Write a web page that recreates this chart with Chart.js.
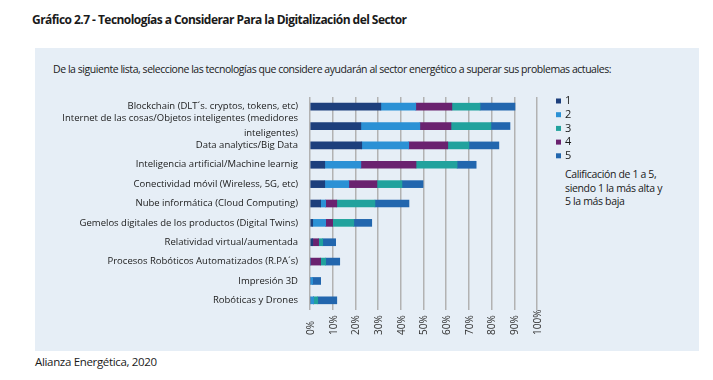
<!DOCTYPE html>
<html lang="es">
<head>
<meta charset="utf-8">
<title>Gráfico 2.7 - Tecnologías a Considerar</title>
<script src="https://cdn.jsdelivr.net/npm/chart.js@4"></script>
<style>
  body {
    margin: 0;
    width: 713px;
    height: 380px;
    background: #ffffff;
    font-family: 'Open Sans', sans-serif;
    color: #1a1a1a;
    position: relative;
    overflow: hidden;
  }
  #title { position: absolute; left: 32px; top: 12px; font-size: 12px; font-weight: 700; line-height: 16px; letter-spacing: -0.55px; }
  #panel { position: absolute; left: 35px; top: 48px; width: 664px; height: 303px; background: #e6eef6; }
  #question { position: absolute; left: 53px; top: 62px; font-size: 10.5px; line-height: 15px; letter-spacing: -0.45px; white-space: nowrap; }
  #note { position: absolute; left: 565px; top: 168px; font-size: 10.5px; line-height: 13.5px; letter-spacing: -0.35px; }
  #source { position: absolute; left: 35px; top: 354px; font-size: 11.5px; line-height: 16px; letter-spacing: -0.33px; }
  #chart-wrap { position: absolute; left: 0; top: 0; width: 713px; height: 380px; }
</style>
</head>
<body>
<div id="title">Gráfico 2.7 - Tecnologías a Considerar Para la Digitalización del Sector</div>
<div id="panel"></div>
<div id="question">De la siguiente lista, seleccione las tecnologías que considere ayudarán al sector energético a superar sus problemas actuales:</div>
<div id="note">Calificación de 1 a 5,<br>siendo 1 la más alta y<br>5 la más baja</div>
<div id="source">Alianza Energética, 2020</div>
<div id="chart-wrap"><canvas id="chart"></canvas></div>

<script>
// Categories (top to bottom)
const categories = [
    'Blockchain (DLT´s. cryptos, tokens, etc)',
    ['Internet de las cosas/Objetos inteligentes (medidores', 'inteligentes)'],
    'Data analytics/Big Data',
    'Inteligencia artificial/Machine learnig',
    'Conectividad móvil (Wireless, 5G, etc)',
    'Nube informática (Cloud Computing)',
    'Gemelos digitales de los productos (Digital Twins)',
    'Relatividad virtual/aumentada',
    'Procesos Robóticos Automatizados (R.PA´s)',
    'Impresión 3D',
    'Robóticas y Drones'
];

// Share of answers per rating (%)
const rating1 = [31.2, 22.4, 22.8, 6.5, 6.5, 4.7, 1.2, 1.2, 0, 0, 0];
const rating2 = [15.4, 26.0, 20.7, 15.9, 10.6, 2.2, 5.7, 0, 0, 1.2, 1.6];
const rating3 = [12.4, 17.6, 9.3, 18.1, 11.0, 16.8, 9.3, 1.8, 2.2, 0, 1.8];
const rating4 = [15.9, 13.7, 17.2, 24.3, 12.4, 4.9, 3.1, 2.6, 4.7, 0, 0];
const rating5 = [15.4, 8.4, 13.2, 8.4, 9.3, 15.0, 7.9, 5.7, 6.2, 3.5, 8.4];

// Axis tick labels
const xTickValues = [0, 10, 20, 30, 40, 50, 60, 70, 80, 90, 100];
const xTickLabels = ['0%', '10%', '20%', '30%', '40%', '50%', '60%', '70%', '80%', '90%', '100%'];

// Colours
const COLORS = {
    r1: '#1d3f7c',
    r2: '#2b91d5',
    r3: '#21a29d',
    r4: '#6a226f',
    r5: '#2266ae'
};
const FONT = "'Open Sans', sans-serif";

// Rotated percent labels under the grid, read bottom to top
const xLabelsPlugin = {
    id: 'xLabels',
    afterDraw(chart) {
        const ctx = chart.ctx;
        const scale = chart.scales.x;
        const bottom = chart.chartArea.bottom;
        ctx.save();
        ctx.font = '10px ' + FONT;
        ctx.fillStyle = '#333333';
        ctx.textAlign = 'left';
        ctx.textBaseline = 'middle';
        xTickValues.forEach((v, i) => {
            const x = scale.getPixelForValue(v);
            ctx.save();
            ctx.translate(x + 1, bottom + 25);
            ctx.rotate(-Math.PI / 2);
            ctx.fillText(xTickLabels[i], 0, 0);
            ctx.restore();
        });
        ctx.restore();
    }
};

// Small square legend on the right, sorted 1..5
const legendPlugin = {
    id: 'sideLegend',
    afterDraw(chart) {
        const ctx = chart.ctx;
        const area = chart.chartArea;
        const items = chart.data.datasets.slice().sort((a, b) => a.label.localeCompare(b.label));
        ctx.save();
        ctx.font = '11px ' + FONT;
        ctx.textAlign = 'left';
        ctx.textBaseline = 'middle';
        items.forEach((ds, i) => {
            const y = area.top + 4 + i * 13.7;
            const x = area.right + 19;
            ctx.fillStyle = ds.backgroundColor;
            ctx.fillRect(x, y - 2.5, 5, 5);
            ctx.fillStyle = '#1a1a1a';
            ctx.fillText(ds.label, x + 9, y);
        });
        ctx.restore();
    }
};

function makeDataset(label, data, color) {
    return {
        label: label,
        data: data,
        backgroundColor: color,
        borderWidth: 0,
        barThickness: 7
    };
}

function initChart() {
    const ctx = document.getElementById('chart').getContext('2d');
    new Chart(ctx, {
        type: 'bar',
        data: {
            labels: categories,
            // stacking order as drawn: 1, 2, 4, 3, 5
            datasets: [
                makeDataset('1', rating1, COLORS.r1),
                makeDataset('2', rating2, COLORS.r2),
                makeDataset('4', rating4, COLORS.r4),
                makeDataset('3', rating3, COLORS.r3),
                makeDataset('5', rating5, COLORS.r5)
            ]
        },
        options: {
            indexAxis: 'y',
            responsive: true,
            maintainAspectRatio: false,
            animation: false,
            layout: {
                padding: { left: 0, right: 176, top: 97, bottom: 70 }
            },
            plugins: {
                legend: { display: false },
                tooltip: { enabled: false }
            },
            scales: {
                x: {
                    stacked: true,
                    min: 0,
                    max: 100,
                    ticks: { display: false, stepSize: 10 },
                    grid: { color: '#b2b2b2', lineWidth: 1.5, drawTicks: false },
                    border: { display: false }
                },
                y: {
                    stacked: true,
                    grid: { display: false, drawTicks: false },
                    border: { display: false },
                    ticks: {
                        autoSkip: false,
                        padding: 12,
                        color: '#1a1a1a',
                        font: { family: FONT, size: 9.5, lineHeight: 1.6 }
                    },
                    afterFit(scale) {
                        scale.width = 310;
                    }
                }
            }
        },
        plugins: [xLabelsPlugin, legendPlugin]
    });
}

initChart();
</script>
</body>
</html>
